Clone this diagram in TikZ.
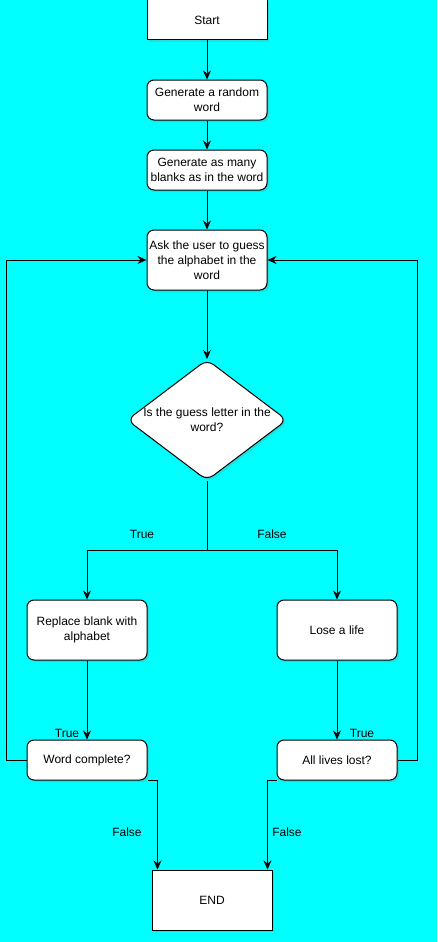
\documentclass[tikz,border=0pt]{standalone}
\usepackage{fontspec}
\setmainfont{Liberation Sans}
\usetikzlibrary{arrows.meta}
\usetikzlibrary{shapes}
\usetikzlibrary{shadows}
\definecolor{bgCyan}{RGB}{0,255,255}

\begin{document}
\begin{tikzpicture}[x = 1pt, y = -1pt, font = \fontsize{12pt}{15pt}\selectfont]
	\tikzstyle{shadowStyle} = [drop shadow = {shadow xshift = 2pt, shadow yshift = -2pt, opacity = 0.25}]
	\tikzstyle{boxStyle} = [shape = rectangle, minimum width = 120pt, minimum height = 40pt, inner sep = 1pt, align = center, draw, fill = white, line width = 1pt, shadowStyle]
	\tikzstyle{roundStyle} = [boxStyle, rounded corners = 7pt]
	\tikzstyle{decisionStyle} = [shape = diamond, minimum width = 160pt, minimum height = 121pt, inner sep = 0pt, draw, fill = white, line width = 1pt, rounded corners = 8pt, shadowStyle]
	\tikzstyle{edgeStyle} = [line width = 1pt, -{Stealth[length = 9pt, width = 8pt]}]
	\tikzstyle{labelStyle} = [inner sep = 1pt]
	\useasboundingbox (0, 0) rectangle (437, 942);
	\fill[bgCyan] (0, 0) rectangle (437, 942);
	\node[boxStyle] (v0) at (207, 20) {Start};
	\node[roundStyle] (v1) at (207, 100) {Generate a random\\word};
	\node[roundStyle] (v2) at (207, 170) {Generate as many\\blanks as in the word};
	\node[roundStyle, minimum height = 60pt] (v3) at (207, 260) {Ask the user to guess\\the alphabet in the\\word};
	\node[decisionStyle, label = {[align = center]center:Is the guess letter in the\\word?}] (v4) at (207, 420) {};
	\node[roundStyle, minimum height = 60pt] (v5) at (87, 630) {Replace blank with\\alphabet};
	\node[roundStyle, minimum height = 60pt] (v6) at (337, 630) {Lose a life};
	\node[roundStyle] (v7) at (87, 760) {Word complete?};
	\node[roundStyle] (v8) at (337, 760) {All lives lost?};
	\node[boxStyle, minimum height = 60pt] (v9) at (212, 900) {END};
	\coordinate (j) at (207, 550);
	\node[labelStyle] (l0) at (142, 534) {True};
	\node[labelStyle] (l1) at (272, 534) {False};
	\node[labelStyle] (l2) at (67, 733) {True};
	\node[labelStyle] (l3) at (362, 733) {True};
	\node[labelStyle] (l4) at (127, 832) {False};
	\node[labelStyle] (l5) at (287, 832) {False};
	\draw[edgeStyle] (v0) -- (v1);
	\draw[edgeStyle] (v1) -- (v2);
	\draw[edgeStyle] (v2) -- (v3);
	\draw[edgeStyle] (v3) -- (v4);
	\draw[edgeStyle] (v4.south) -- (j) -| (v5.north);
	\draw[edgeStyle] (j) -| (v6.north);
	\draw[edgeStyle] (v5) -- (v7);
	\draw[edgeStyle] (v6) -- (v8);
	\draw[edgeStyle] (v7.west) -- ++(-20, 0) |- (v3.west);
	\draw[edgeStyle] (v8.east) -- ++(20, 0) |- (v3.east);
	\draw[edgeStyle] (v7.south east) -| ([xshift = 6pt]v9.north west);
	\draw[edgeStyle] (v8.south west) -| ([xshift = -5pt]v9.north east);
\end{tikzpicture}
\end{document}
